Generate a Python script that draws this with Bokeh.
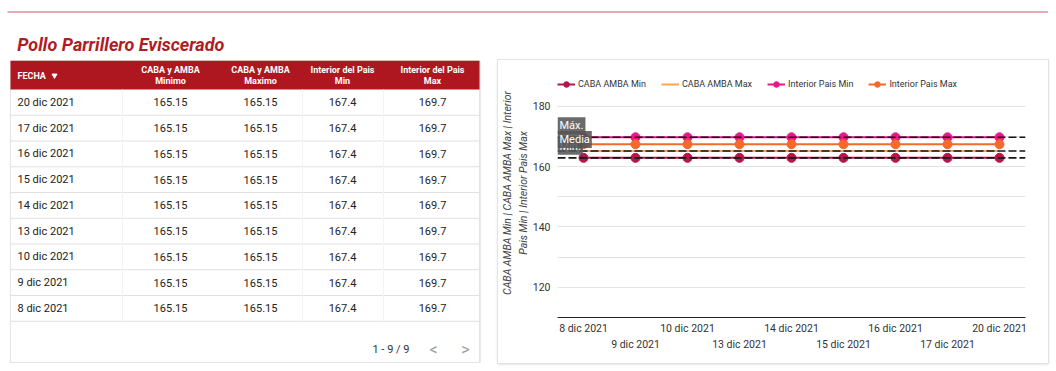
import numpy as np
from bokeh.plotting import figure
from bokeh.models import (ColumnDataSource, Range1d, FixedTicker, LinearAxis,
                          Span, Label, Legend, LegendItem)
from bokeh.layouts import row, column
from bokeh.core.properties import value
from bokeh.embed import file_html
from bokeh.resources import INLINE

FONT = "Roboto"

# ---------------- data ----------------
title_text = "Pollo Parrillero Eviscerado"

table_headers = ["FECHA", "CABA y AMBA\nMinimo", "CABA y AMBA\nMaximo",
                 "Interior del Pais\nMin", "Interior del Pais\nMax"]
table_fechas = ["20 dic 2021", "17 dic 2021", "16 dic 2021", "15 dic 2021", "14 dic 2021",
                "13 dic 2021", "10 dic 2021", "9 dic 2021", "8 dic 2021"]
table_caba_min = [165.15, 165.15, 165.15, 165.15, 165.15, 165.15, 165.15, 165.15, 165.15]
table_caba_max = [165.15, 165.15, 165.15, 165.15, 165.15, 165.15, 165.15, 165.15, 165.15]
table_interior_min = [167.4, 167.4, 167.4, 167.4, 167.4, 167.4, 167.4, 167.4, 167.4]
table_interior_max = [169.7, 169.7, 169.7, 169.7, 169.7, 169.7, 169.7, 169.7, 169.7]
pagination_text = "1 - 9 / 9"

chart_dates = ["8 dic 2021", "9 dic 2021", "10 dic 2021", "13 dic 2021", "14 dic 2021",
               "15 dic 2021", "16 dic 2021", "17 dic 2021", "20 dic 2021"]
caba_amba_min = [162.9, 162.9, 162.9, 162.9, 162.9, 162.9, 162.9, 162.9, 162.9]
caba_amba_max = [165.15, 165.15, 165.15, 165.15, 165.15, 165.15, 165.15, 165.15, 165.15]
interior_pais_min = [169.7, 169.7, 169.7, 169.7, 169.7, 169.7, 169.7, 169.7, 169.7]
interior_pais_max = [167.4, 167.4, 167.4, 167.4, 167.4, 167.4, 167.4, 167.4, 167.4]
series_names = ["CABA AMBA Min", "CABA AMBA Max", "Interior Pais Min", "Interior Pais Max"]
ref_labels = ["Mín.", "Media", "Máx."]
ref_values = [162.9, 165.15, 169.7]
y_tick_values = [120, 140, 160, 180]
y_axis_title = "CABA AMBA Min | CABA AMBA Max | Interior\nPais Min | Interior Pais Max"

# ---------------- styles ----------------
RED_TITLE = "#b01c24"
RED_HEADER = "#ae1720"
C_MIN = "#b3164d"
C_MAX = "#ffa44f"
C_IMIN = "#e8178a"
C_IMAX = "#f26a2c"


def no_frame_align(f):
    try:
        f.frame_align = False
    except Exception:
        pass


def blank_fig(w, h):
    f = figure(width=w, height=h, x_range=Range1d(0, w), y_range=Range1d(h, 0),
               output_backend="svg", toolbar_location=None, min_border=0,
               x_axis_type=None, y_axis_type=None, outline_line_color=None)
    f.grid.visible = False
    f.border_fill_color = "white"
    f.background_fill_color = "white"
    no_frame_align(f)
    return f


# ---------------- top: rule + title ----------------
TOP_W, TOP_H = 1048, 60
top = blank_fig(TOP_W, TOP_H)
top.segment(x0=[7], y0=[11.5], x1=[TOP_W], y1=[11.5], line_color="#c45c5c", line_width=1)
top.text(x=[16.7], y=[44.3], text=[title_text], text_font=value(FONT), text_font_size="18px",
         text_font_style="bold italic", text_color=RED_TITLE, text_baseline="alphabetic")

# ---------------- table ----------------
TW, TH = 498, 303
tab = blank_fig(TW, TH)
card_l, card_r, card_t, card_b = 10, 479, 0, 302
tab.quad(left=[card_l - 0.5], right=[card_r + 1.5], top=[card_t + 1], bottom=[card_b + 1.5],
         fill_color="black", fill_alpha=0.06, line_color=None)
tab.quad(left=[card_l], right=[card_r + 0.7], top=[card_t + 0.5], bottom=[card_b + 0.8],
         fill_color="black", fill_alpha=0.12, line_color=None)
tab.quad(left=[card_l], right=[card_r], top=[card_t], bottom=[card_b],
         fill_color="white", line_color="#e4e4e4", line_width=1)

header_h = 29
row_h = 25.75
tab.quad(left=[card_l], right=[card_r], top=[card_t], bottom=[header_h],
         fill_color=RED_HEADER, line_color=None)

col_x = [17, 170, 260, 342, 432]
col_align = ["left", "center", "center", "center", "center"]
hsrc = ColumnDataSource(dict(x=col_x, y=[15.2, 14.8, 14.8, 14.8, 14.8],
                             t=table_headers, a=col_align))
tab.text(x="x", y="y", text="t", text_align="a", source=hsrc, text_font=value(FONT),
         text_font_size="9px", text_font_style="bold", text_color="white",
         text_baseline="middle", text_line_height=1.05)
tab.scatter(x=[54], y=[15], marker="inverted_triangle", size=5, color="white")

n_rows = len(table_fechas)
row_y = [header_h + row_h * (i + 0.5) for i in range(n_rows)]
columns = [table_fechas,
           [str(v) for v in table_caba_min],
           [str(v) for v in table_caba_max],
           [str(v) for v in table_interior_min],
           [str(v) for v in table_interior_max]]
for cx, al, vals in zip(col_x, col_align, columns):
    tab.text(x=[cx] * n_rows, y=row_y, text=vals, text_align=al, text_baseline="middle",
             text_font=value(FONT), text_font_size="11px", text_color="#222222")

line_y = [header_h + row_h * (k + 1) for k in range(n_rows)]
tab.segment(x0=[card_l] * n_rows, y0=line_y, x1=[card_r] * n_rows, y1=line_y,
            line_color="#e0e0e0", line_width=1)
sep_x = [122, 302, 383]
tab.segment(x0=sep_x, y0=[header_h] * 3, x1=sep_x, y1=[header_h + row_h * n_rows] * 3,
            line_color="#f3f3f3", line_width=1)

tab.text(x=[409], y=[289], text=[pagination_text], text_align="right", text_baseline="middle",
         text_font=value(FONT), text_font_size="11px", text_color="#333333")
tab.text(x=[433, 465], y=[288.5, 288.5], text=["<", ">"], text_align="center",
         text_baseline="middle", text_font=value(FONT), text_font_size="16px",
         text_color="#9e9e9e")

# ---------------- chart ----------------
CW, CH = 550, 303
MB_L, MB_R, MB_T, MB_B = 59, 23, 8, 46
n_pts = len(chart_dates)
xs = list(range(n_pts))
x_start, x_end = -0.5, n_pts - 0.5
# the frame reaches up to the legend row; gridlines/ticks stop at 180
y_low, y_high = 110, 192.5
ch = figure(width=CW, height=CH, x_range=Range1d(x_start, x_end), y_range=Range1d(y_low, y_high),
            output_backend="svg", toolbar_location=None,
            min_border_left=MB_L, min_border_right=MB_R, min_border_top=MB_T,
            min_border_bottom=MB_B, outline_line_color=None)
ch.border_fill_color = "white"
ch.background_fill_color = "white"
ch.styles = {"outline": "1px solid #e3e3e3", "box-shadow": "0 1px 3px rgba(0,0,0,0.18)"}
no_frame_align(ch)

src = ColumnDataSource(dict(x=xs, cmin=caba_amba_min, cmax=caba_amba_max,
                            imin=interior_pais_min, imax=interior_pais_max))

r1 = ch.line("x", "cmin", source=src, line_color=C_MIN, line_width=2)
s1 = ch.scatter("x", "cmin", source=src, size=9, color=C_MIN)
r2 = ch.line("x", "cmax", source=src, line_color=C_MAX, line_width=2)
r3 = ch.line("x", "imin", source=src, line_color=C_IMIN, line_width=2)
s3 = ch.scatter("x", "imin", source=src, size=9, color=C_IMIN)
r4 = ch.line("x", "imax", source=src, line_color=C_IMAX, line_width=2)
s4 = ch.scatter("x", "imax", source=src, size=9, color=C_IMAX)

for v in ref_values:
    ch.add_layout(Span(location=v, dimension="width", line_color="#151515",
                       line_dash="8 3", line_width=1.6))
for lab, v in zip(ref_labels, ref_values):
    ch.add_layout(Label(x=x_start, y=v, text=lab, y_offset=3,
                        text_font=FONT, text_font_size="11px", text_color="white",
                        text_align="left", text_baseline="bottom",
                        background_fill_color="#555555", background_fill_alpha=0.88,
                        padding=2))

frame_h = CH - MB_T - MB_B
legend = Legend(items=[LegendItem(label=series_names[0], renderers=[r1, s1]),
                       LegendItem(label=series_names[1], renderers=[r2]),
                       LegendItem(label=series_names[2], renderers=[r3, s3]),
                       LegendItem(label=series_names[3], renderers=[r4, s4])],
                orientation="horizontal", location=(0, frame_h - 23),
                glyph_width=18, glyph_height=14, label_height=14, label_standoff=3,
                spacing=15, padding=0, margin=0, border_line_color=None,
                background_fill_alpha=0, label_text_font=FONT,
                label_text_font_size="9px", label_text_color="#333333")
ch.add_layout(legend)

# y axis
ya = ch.yaxis[0]
ya.ticker = FixedTicker(ticks=y_tick_values)
ya.axis_line_color = None
ya.major_tick_line_color = None
ya.minor_tick_line_color = None
ya.major_tick_out = 0
ya.major_tick_in = 0
ya.minor_tick_out = 0
ya.major_label_standoff = 7
ya.major_label_text_font = FONT
ya.major_label_text_font_size = "10.5px"
ya.major_label_text_color = "#333333"
ya.axis_label = y_axis_title
ya.axis_label_text_font = FONT
ya.axis_label_text_font_size = "10.5px"
ya.axis_label_text_font_style = "italic"
ya.axis_label_text_color = "#444444"
ya.axis_label_standoff = 0

ch.ygrid.ticker = FixedTicker(ticks=[float(t) for t in np.arange(120, 181, 10)])
ch.ygrid.grid_line_color = "#e3e3e3"
ch.xgrid.visible = False

# x axes: date labels under each point, two staggered rows
even_pos = xs[0::2]
odd_pos = xs[1::2]

xa = ch.xaxis[0]
xa.ticker = FixedTicker(ticks=even_pos)
xa.major_label_overrides = {p: chart_dates[p] for p in even_pos}
xa.axis_line_color = "#222222"
xa.axis_line_width = 1.2
xa.major_tick_line_color = None
xa.minor_tick_line_color = None
xa.major_tick_out = 0
xa.major_tick_in = 0
xa.minor_tick_out = 0
xa.major_label_standoff = 4
xa.axis_label_standoff = 0
xa.major_label_text_font = FONT
xa.major_label_text_font_size = "10.5px"
xa.major_label_text_color = "#333333"

xa2 = LinearAxis(ticker=FixedTicker(ticks=odd_pos),
                 major_label_overrides={p: chart_dates[p] for p in odd_pos},
                 axis_line_color=None, major_tick_line_color=None, minor_tick_line_color=None,
                 major_tick_out=0, major_tick_in=0, minor_tick_out=0,
                 major_label_standoff=0, axis_label_standoff=0, major_label_text_font=FONT,
                 major_label_text_font_size="10.5px", major_label_text_color="#333333")
ch.add_layout(xa2, "below")

layout = column(top, row(tab, ch))
open("out.html", "w").write(file_html(layout, INLINE))
